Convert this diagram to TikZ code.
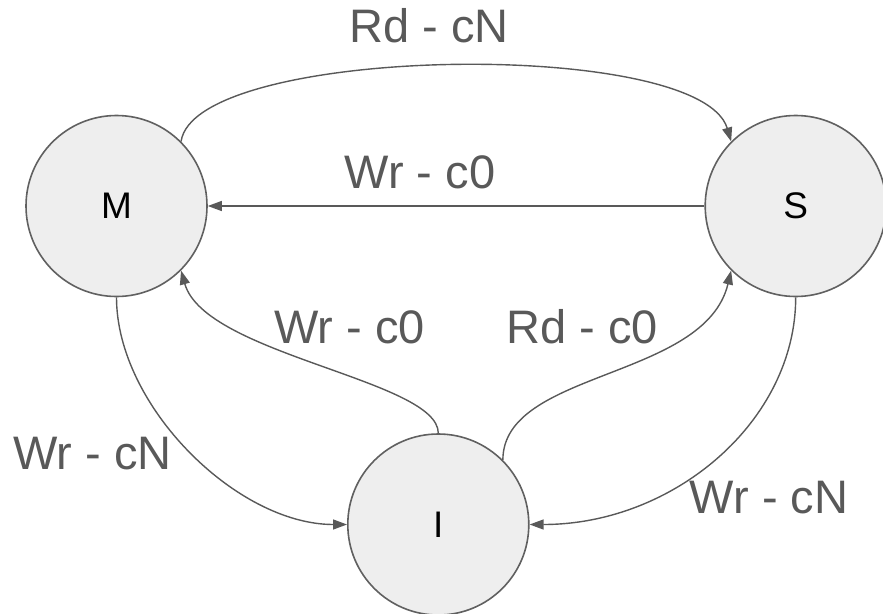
\documentclass[tikz,border=0pt]{standalone}
\usepackage{fontspec}
\setmainfont{Liberation Sans}
\usetikzlibrary{arrows.meta}
\definecolor{edgegray}{HTML}{595959}
\definecolor{bordergray}{HTML}{606060}
\definecolor{fillgray}{HTML}{EEEEEE}
\tikzset{
  state/.style={circle, draw=bordergray, fill=fillgray, line width=1.6pt, minimum size=181pt, inner sep=0pt,
    font=\fontsize{37}{40}\selectfont, text=black},
  lab/.style={anchor=base, inner sep=0pt, text=edgegray, font=\fontsize{47}{50}\selectfont},
  conn/.style={draw=edgegray, line width=1.4pt, -{Triangle[length=14pt,width=10pt]}}
}
\begin{document}
\begin{tikzpicture}[x=1pt,y=-1pt]
\useasboundingbox (0,0) rectangle (883,613);
\node[state] (M) at (116.5,206) {M};
\node[state] (S) at (795.7,206) {S};
\node[state] (I) at (438.3,524.5) {I};

\node[lab] (lrdcn) at (429,42.3) {Rd - cN};
\node[lab] (lwrc0a) at (420,188.3) {Wr - c0};
\node[lab] (lwrc0b) at (349.5,343.3) {Wr - c0};
\node[lab] (lrdc0) at (582,343.3) {Rd - c0};
\node[lab] (lwrcnl) at (92.5,469.3) {Wr - cN};
\node[lab] (lwrcnr) at (769,513.3) {Wr - cN};

\draw[conn] (M.45) .. controls (195,45) and (700,37) .. (S.135);
\draw[conn] (S.west) -- (M.east);
\draw[conn] (M.south) .. controls (116.5,406) and (237,524.5) .. (I.west);
\draw[conn] (S.south) .. controls (795.7,421) and (674,524.5) .. (I.east);
\draw[conn] (I.north) .. controls (438.3,380) and (205,355) .. (M.-45);
\draw[conn] (I.45) .. controls (503,370) and (705,380) .. (S.-135);
\end{tikzpicture}
\end{document}
